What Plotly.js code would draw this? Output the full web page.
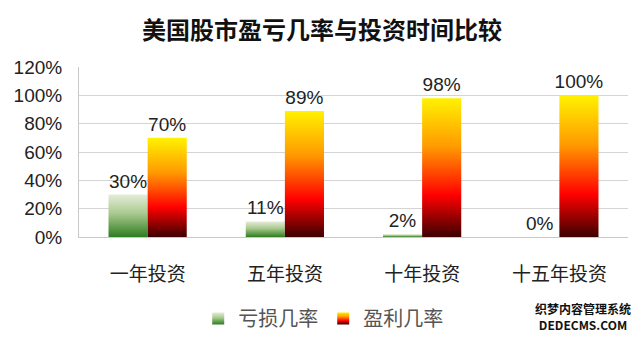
<!DOCTYPE html>
<html>
<head>
<meta charset="utf-8">
<script src="https://cdn.plot.ly/plotly-3.0.1.min.js"></script>
<style>
html,body{margin:0;padding:0;background:#fff;}
#chart{width:640px;height:338px;}
</style>
</head>
<body>
<div id="chart"></div>
<script>
const categories = ["一年投资", "五年投资", "十年投资", "十五年投资"];
const lossRate = [30, 11, 2, 0];
const profitRate = [70, 89, 98, 100];
const seriesNames = ["亏损几率", "盈利几率"];
const yTicks = [0, 20, 40, 60, 80, 100, 120];
const chartTitle = "美国股市盈亏几率与投资时间比较";

const cjk = '"Noto Sans CJK SC", "Noto Sans", sans-serif';
const latin = '"Liberation Sans", Arial, sans-serif';

const labelFont = {family: latin, size: 19, color: "#222"};

const traces = [
  {
    type: "bar", name: seriesNames[0], x: categories, y: lossRate,
    marker: {color: "#5a9a3a"},
    text: lossRate.map(v => v + "%"), textposition: "outside", constraintext: "none",
    textfont: labelFont, cliponaxis: false, hoverinfo: "skip"
  },
  {
    type: "bar", name: seriesNames[1], x: categories, y: profitRate,
    marker: {color: "#ff6600"},
    text: profitRate.map(v => v + "%"), textposition: "outside", constraintext: "none",
    textfont: labelFont, cliponaxis: false, hoverinfo: "skip"
  }
];

const layout = {
  width: 640, height: 338,
  margin: {l: 79, r: 12, t: 67, b: 101},
  paper_bgcolor: "#fff", plot_bgcolor: "#fff",
  showlegend: true,
  barmode: "group", bargap: 0.43, bargroupgap: 0,
  title: {
    text: "<b>" + chartTitle + "</b>",
    font: {family: cjk, size: 24, color: "#111"},
    x: 0.503, xref: "container", xanchor: "center", y: 0.91, yref: "container", yanchor: "middle"
  },
  xaxis: {
    type: "category",
    tickfont: {family: cjk, size: 19, color: "#222"},
    ticks: "", ticklabelstandoff: 20,
    showline: true, linecolor: "#c8c8c8", linewidth: 1,
    showgrid: false, zeroline: false, fixedrange: true
  },
  yaxis: {
    range: [0, 120], tickvals: yTicks, ticktext: yTicks.map(v => v + "%"),
    tickfont: {family: latin, size: 19, color: "#222"},
    ticks: "", ticklabelstandoff: 12,
    showline: true, linecolor: "#c8c8c8", linewidth: 1,
    showgrid: true, gridcolor: "#d4d4d4", gridwidth: 1,
    zeroline: false, fixedrange: true
  },
  legend: {
    orientation: "h", xref: "container", yref: "container",
    x: 0.505, xanchor: "center", y: 0.058, yanchor: "middle",
    font: {family: cjk, size: 20, color: "#555"},
    itemwidth: 30, tracegroupgap: 0
  },
  annotations: [
    {
      xref: "paper", yref: "paper", x: 1.01, y: -0.47,
      xanchor: "right", yanchor: "middle", showarrow: false,
      text: "<b>织梦内容管理系统</b><br><b>DEDECMS.COM</b>",
      font: {family: cjk, size: 12, color: "#111"}, align: "center"
    }
  ]
};

Plotly.newPlot("chart", traces, layout, {staticPlot: true, displayModeBar: false}).then(gd => {
  const svgNS = "http://www.w3.org/2000/svg";
  const svg = gd.querySelector("svg.main-svg");
  const defs = document.createElementNS(svgNS, "defs");
  const grads = {
    gGreen: [["0%", "#e4ecd8"], ["45%", "#a9c98f"], ["100%", "#2d7d1e"]],
    gHot: [["0%", "#fff200"], ["35%", "#ff9a00"], ["70%", "#ff0000"], ["100%", "#3d0000"]]
  };
  for (const id in grads) {
    const lg = document.createElementNS(svgNS, "linearGradient");
    lg.setAttribute("id", id);
    lg.setAttribute("x1", "0"); lg.setAttribute("y1", "0");
    lg.setAttribute("x2", "0"); lg.setAttribute("y2", "1");
    grads[id].forEach(([o, c]) => {
      const s = document.createElementNS(svgNS, "stop");
      s.setAttribute("offset", o); s.setAttribute("stop-color", c);
      lg.appendChild(s);
    });
    defs.appendChild(lg);
  }
  svg.insertBefore(defs, svg.firstChild);
  const ids = ["gGreen", "gHot"];
  gd.querySelectorAll(".barlayer .trace").forEach((t, i) => {
    t.querySelectorAll(".point path").forEach(p => { p.style.fill = "url(#" + ids[i] + ")"; });
  });
  gd.querySelectorAll(".legend .traces").forEach((t, i) => {
    t.querySelectorAll(".legendpoints path").forEach(p => { p.style.fill = "url(#" + ids[i] + ")"; });
  });
});
</script>
</body>
</html>
